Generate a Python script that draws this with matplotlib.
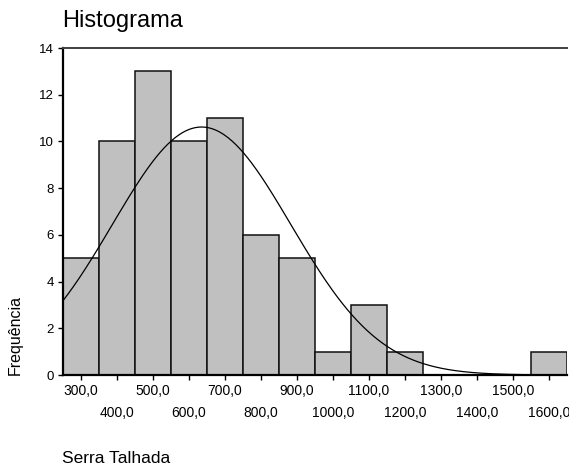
import numpy as np
import matplotlib
matplotlib.use('Agg')
import matplotlib.pyplot as plt

bin_centers = [300, 400, 500, 600, 700, 800, 900, 1000, 1100, 1200, 1300, 1400, 1500, 1600]
frequencias = [5, 10, 13, 10, 11, 6, 5, 1, 3, 1, 0, 0, 0, 1]
bin_width = 100

# curva normal ajustada (média e desvio estimados)
media = 635.0
desvio = 248.0

odd_ticks = [300, 500, 700, 900, 1100, 1300, 1500]
even_ticks = [400, 600, 800, 1000, 1200, 1400, 1600]
y_ticks = [0, 2, 4, 6, 8, 10, 12, 14]

plt.rcParams['font.family'] = ['Liberation Sans', 'DejaVu Sans']

fig = plt.figure(figsize=(5.69, 4.67), dpi=100)
ax = fig.add_axes([63 / 569, 1 - 375 / 467, 504 / 569, 327 / 467])

ax.bar(bin_centers, frequencias, width=bin_width, color='#c0c0c0',
       edgecolor='#101010', linewidth=1.1, zorder=2)

n = sum(frequencias)
xs = np.linspace(250, 1650, 400)
ys = n * bin_width / (desvio * np.sqrt(2 * np.pi)) * np.exp(-(xs - media) ** 2 / (2 * desvio ** 2))
ax.plot(xs, ys, color='black', linewidth=0.9, zorder=3)

ax.set_xlim(250, 1650)
ax.set_ylim(0, 14)

ax.set_xticks(odd_ticks, labels=[f'{v:.1f}'.replace('.', ',') for v in odd_ticks])
ax.set_xticks(even_ticks, labels=[f'{v:.1f}'.replace('.', ',') for v in even_ticks], minor=True)
ax.set_yticks(y_ticks)

ax.tick_params(axis='x', which='major', direction='out', length=3.5, width=1, pad=3, labelsize=10)
ax.tick_params(axis='x', which='minor', direction='out', length=3.5, width=1, pad=19, labelsize=10)
ax.tick_params(axis='y', direction='out', length=3.5, width=1, pad=3, labelsize=9.5)

for side in ['left', 'bottom']:
    ax.spines[side].set_linewidth(1.6)
    ax.spines[side].set_color('black')
ax.spines['top'].set_linewidth(1.4)
ax.spines['top'].set_color('#404040')
ax.spines['right'].set_visible(False)

fig.text(62 / 569, 1 - 27 / 467, 'Histograma', fontsize=17, ha='left', va='baseline')
fig.text(15 / 569, 1 - 375 / 467, 'Frequência', fontsize=11.5, rotation=90,
         ha='center', va='bottom')
fig.text(62 / 569, 1 - 463 / 467, 'Serra Talhada', fontsize=12.5, ha='left', va='baseline')

fig.savefig('out.png', dpi=100)
